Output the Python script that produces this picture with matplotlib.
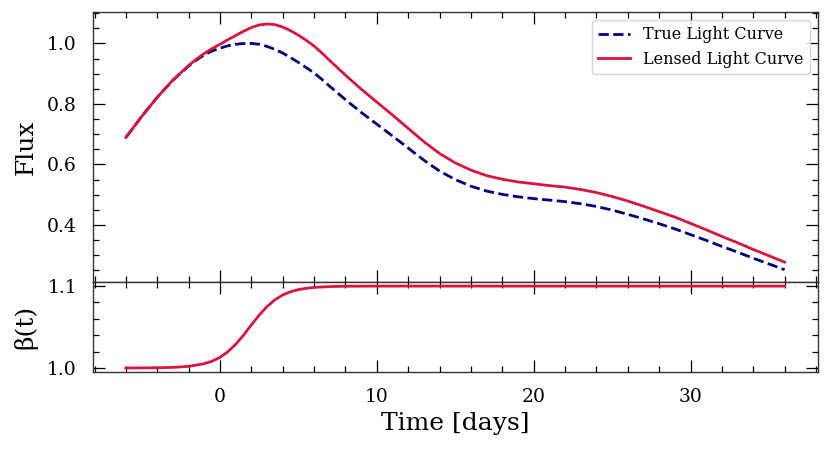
import matplotlib
matplotlib.use('Agg')
import matplotlib.pyplot as plt
from matplotlib.ticker import MultipleLocator

## light curves: half-day samples around the peak, daily afterwards
days = [-6, -5, -4, -3, -2, -1.5, -1, -0.5, 0, 0.5, 1, 1.5, 2, 2.5, 3, 3.5, 4,
        4.5, 5, 5.5, 6, 6.5, 7, 7.5, 8, 9, 10, 11, 12, 13, 14, 15, 16, 17, 18,
        19, 20, 21, 22, 23, 24, 25, 26, 27, 28, 29, 30, 31, 32, 33, 34, 35, 36]
true_flux = [0.689, 0.758, 0.822, 0.878, 0.925, 0.945, 0.962, 0.975, 0.984,
             0.992, 0.997, 0.9995, 1.000, 0.997, 0.990, 0.980, 0.968, 0.953,
             0.937, 0.920, 0.902, 0.881, 0.858, 0.836, 0.814, 0.772, 0.733,
             0.694, 0.654, 0.614, 0.578, 0.550, 0.528, 0.512, 0.501, 0.493,
             0.487, 0.482, 0.477, 0.470, 0.461, 0.449, 0.435, 0.420, 0.404,
             0.387, 0.368, 0.349, 0.329, 0.310, 0.290, 0.271, 0.252]
lensed_flux = [0.689, 0.758, 0.822, 0.879, 0.927, 0.948, 0.967, 0.983, 0.997,
               1.012, 1.026, 1.040, 1.0525, 1.061, 1.064, 1.062, 1.054, 1.042,
               1.027, 1.010, 0.991, 0.968, 0.943, 0.919, 0.895, 0.849, 0.806,
               0.763, 0.719, 0.675, 0.636, 0.605, 0.581, 0.563, 0.551, 0.542,
               0.536, 0.530, 0.525, 0.517, 0.507, 0.494, 0.479, 0.462, 0.444,
               0.426, 0.405, 0.384, 0.362, 0.341, 0.319, 0.298, 0.277]

## magnification, denser where it rises
beta_days = [-6, -5, -4, -3, -2, -1, -0.5, 0, 0.5, 1, 1.5, 2, 2.5, 3, 3.5, 4, 4.5,
             5, 5.5, 6, 7, 8, 10, 15, 20, 25, 30, 36]
beta = [1.0000, 1.0001, 1.0003, 1.0007, 1.0020, 1.0052, 1.0083, 1.0130, 1.0198,
        1.0289, 1.0401, 1.0525, 1.0646, 1.0750, 1.0832, 1.0891, 1.0931, 1.0957,
        1.0973, 1.0984, 1.0994, 1.0998, 1.1000, 1.1000, 1.1000, 1.1000, 1.1000,
        1.1000]

plt.rcParams['font.family'] = ['DejaVu Serif']

fig, (ax, axb) = plt.subplots(2, 1, sharex=True, figsize=(8.3, 4.51), dpi=100,
                              gridspec_kw={'height_ratios': [3, 1], 'hspace': 0})
fig.subplots_adjust(left=0.112, right=0.985, top=0.974, bottom=0.175)

ax.plot(days, true_flux, ls='--', color='navy', lw=2, label='True Light Curve')
ax.plot(days, lensed_flux, ls='-', color='crimson', lw=2, label='Lensed Light Curve')
ax.set_ylabel('Flux', fontsize=18, labelpad=7)
ax.legend(loc='upper right', fontsize=11.5)

axb.plot(beta_days, beta, color='crimson', lw=2)
axb.set_ylabel('β(t)', fontsize=18, labelpad=7)
axb.set_xlabel('Time [days]', fontsize=18)

ax.xaxis.set_major_locator(MultipleLocator(10))
ax.xaxis.set_minor_locator(MultipleLocator(2))
ax.yaxis.set_major_locator(MultipleLocator(0.2))
ax.yaxis.set_minor_locator(MultipleLocator(0.05))
axb.yaxis.set_major_locator(MultipleLocator(0.1))
axb.yaxis.set_minor_locator(MultipleLocator(0.02))

for a in (ax, axb):
    a.tick_params(which='both', direction='in', top=True, right=True,
                  labelsize=13.5, pad=11.5)
    a.tick_params(which='major', length=8.5, width=0.9)
    a.tick_params(which='minor', length=4.5, width=0.9)
    for s in a.spines.values():
        s.set_linewidth(1.0)
        s.set_color('#333333')

fig.align_ylabels([ax, axb])
fig.savefig('out.png', dpi=100)
